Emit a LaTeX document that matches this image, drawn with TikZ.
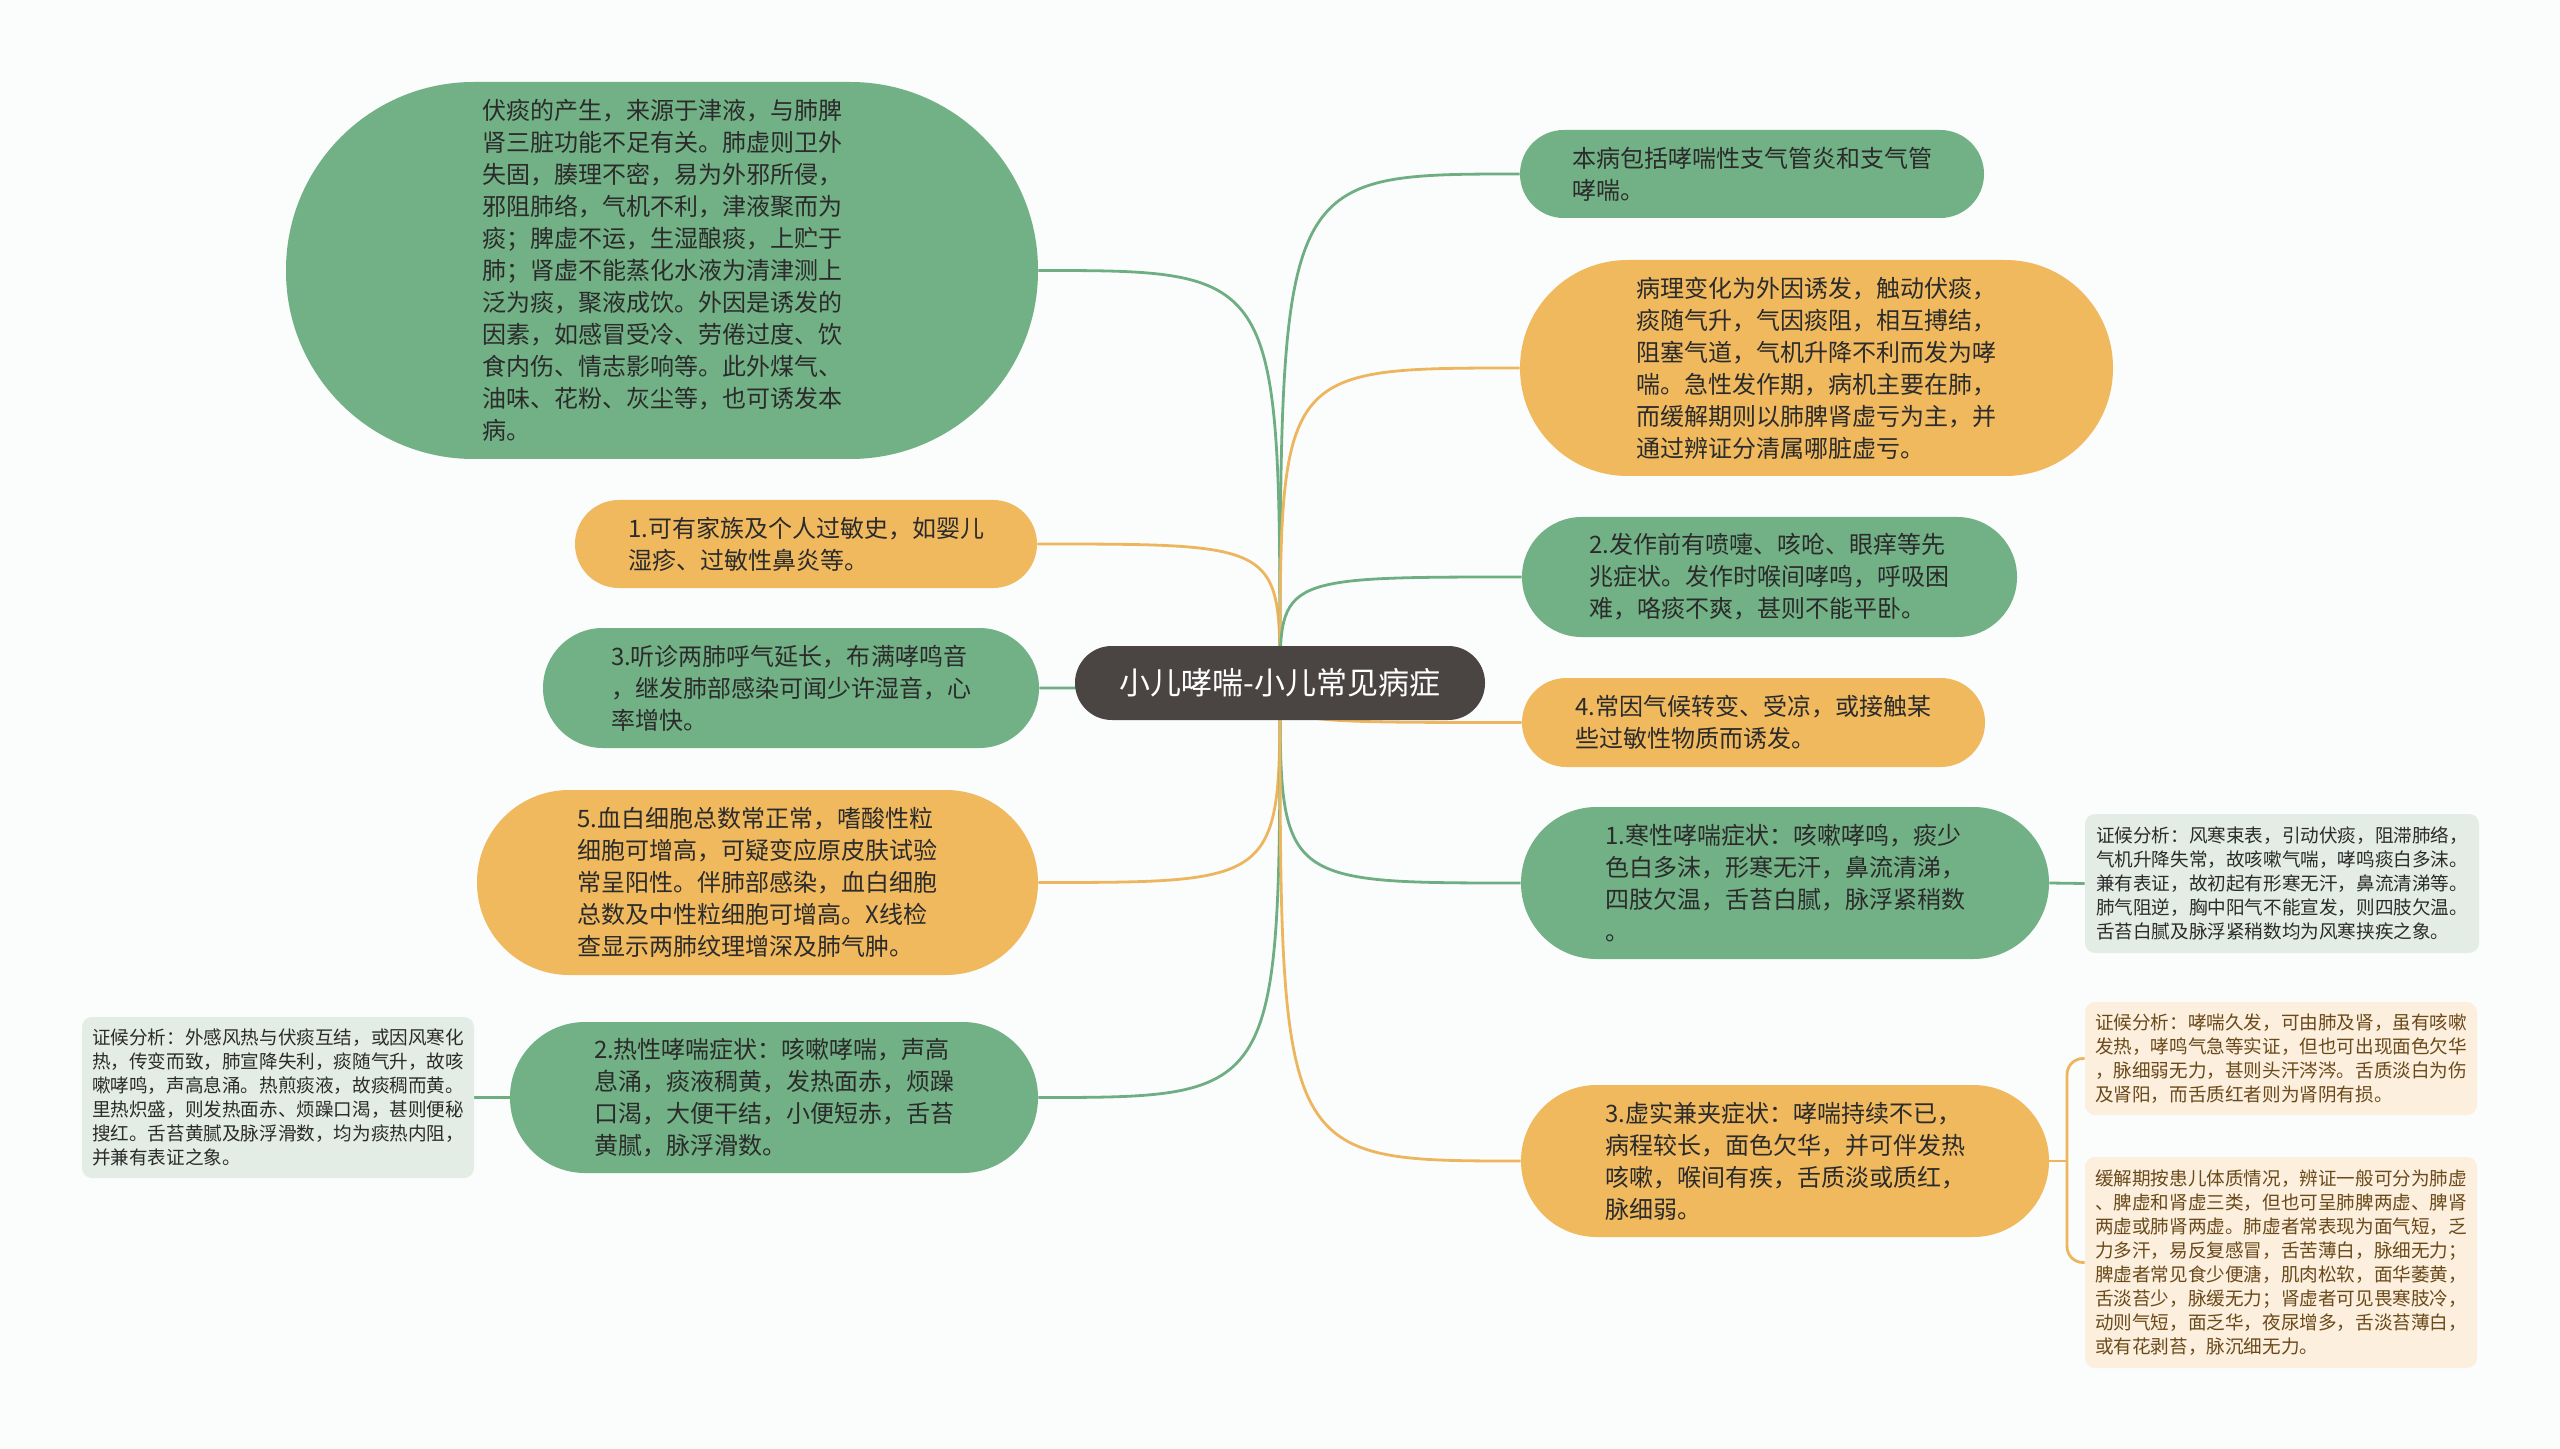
\documentclass[tikz,border=0pt]{standalone}
\usepackage{fontspec}
\setmainfont{Noto Sans CJK SC}
\usetikzlibrary{calc}
\definecolor{gfill}{HTML}{72B085}
\definecolor{ofill}{HTML}{F0B95E}
\definecolor{cfill}{HTML}{4A4443}
\definecolor{gnote}{HTML}{E3EDE5}
\definecolor{onote}{HTML}{FCEFDE}
\definecolor{bgcol}{HTML}{FAFDFC}
\definecolor{txt}{HTML}{2B2B2B}
\definecolor{otxt}{HTML}{6A4A1A}
\definecolor{glinecol}{HTML}{6FAE83}
\definecolor{olinecol}{HTML}{EDB65E}
\pgfdeclarelayer{bglayer}
\pgfsetlayers{bglayer,main}
\begin{document}
\begin{tikzpicture}[x=0.5pt,y=-0.5pt,
  box/.style={inner sep=0pt, align=left, font=\fontsize{12pt}{16pt}\selectfont, text=txt},
  gbox/.style={box, fill=gfill},
  obox/.style={box, fill=ofill},
  sz/.style n args={2}{minimum width=#1*0.5pt, minimum height=#2*0.5pt, rounded corners=#2*0.249pt},
  notebox/.style={inner sep=0pt, align=left, font=\fontsize{9.3pt}{12pt}\selectfont, rounded corners=5pt},
  gnotebox/.style={notebox, fill=gnote, text=txt},
  onotebox/.style={notebox, fill=onote, text=otxt},
  nsz/.style n args={2}{minimum width=#1*0.5pt, minimum height=#2*0.5pt},
  gl/.style={draw=glinecol, line width=1.4pt},
  ol/.style={draw=olinecol, line width=1.4pt}
]
\useasboundingbox (0,0) rectangle (2560,1449);

% central node
\node[fill=cfill, text=white, inner sep=0pt, font=\fontsize{15.5pt}{18pt}\selectfont,
  minimum width=205pt, minimum height=37pt, rounded corners=18.4pt] (ctr) at (1280,683) {小儿哮喘-小儿常见病症};

% left side
\node[gbox, sz={752}{377}] (A) at (662,270.5) {伏痰的产生，来源于津液，与肺脾\\肾三脏功能不足有关。肺虚则卫外\\失固，腠理不密，易为外邪所侵，\\邪阻肺络，气机不利，津液聚而为\\痰；脾虚不运，生湿酿痰，上贮于\\肺；肾虚不能蒸化水液为清津测上\\泛为痰，聚液成饮。外因是诱发的\\因素，如感冒受冷、劳倦过度、饮\\食内伤、情志影响等。此外煤气、\\油味、花粉、灰尘等，也可诱发本\\病。};
\node[obox, sz={462}{88}] (B) at (806,544) {1.可有家族及个人过敏史，如婴儿\\湿疹、过敏性鼻炎等。};
\node[gbox, sz={496}{120}] (C) at (791,688) {3.听诊两肺呼气延长，布满哮鸣音\\，继发肺部感染可闻少许湿音，心\\率增快。};
\node[obox, sz={561}{185}] (D) at (757.5,882.5) {5.血白细胞总数常正常，嗜酸性粒\\细胞可增高，可疑变应原皮肤试验\\常呈阳性。伴肺部感染，血白细胞\\总数及中性粒细胞可增高。X线检\\查显示两肺纹理增深及肺气肿。};
\node[gbox, sz={528}{151}] (E) at (774,1097.5) {2.热性哮喘症状：咳嗽哮喘，声高\\息涌，痰液稠黄，发热面赤，烦躁\\口渴，大便干结，小便短赤，舌苔\\黄腻，脉浮滑数。};
\node[gnotebox, nsz={392}{161}] (F) at (278,1097.5) {证候分析：外感风热与伏痰互结，或因风寒化\\热，传变而致，肺宣降失利，痰随气升，故咳\\嗽哮鸣，声高息涌。热煎痰液，故痰稠而黄。\\里热炽盛，则发热面赤、烦躁口渴，甚则便秘\\搜红。舌苔黄腻及脉浮滑数，均为痰热内阻，\\并兼有表证之象。};

% right side
\node[gbox, sz={464}{88}] (G) at (1752,174) {本病包括哮喘性支气管炎和支气管\\哮喘。};
\node[obox, sz={593}{216}] (H) at (1816.5,368) {病理变化为外因诱发，触动伏痰，\\痰随气升，气因痰阻，相互搏结，\\阻塞气道，气机升降不利而发为哮\\喘。急性发作期，病机主要在肺，\\而缓解期则以肺脾肾虚亏为主，并\\通过辨证分清属哪脏虚亏。};
\node[gbox, sz={495}{120}] (I) at (1769.5,577) {2.发作前有喷嚏、咳呛、眼痒等先\\兆症状。发作时喉间哮鸣，呼吸困\\难，咯痰不爽，甚则不能平卧。};
\node[obox, sz={463}{89}] (J) at (1753.5,722.5) {4.常因气候转变、受凉，或接触某\\些过敏性物质而诱发。};
\node[gbox, sz={528}{152}] (K) at (1785,883) {1.寒性哮喘症状：咳嗽哮鸣，痰少\\色白多沫，形寒无汗，鼻流清涕，\\四肢欠温，舌苔白腻，脉浮紧稍数\\。};
\node[gnotebox, nsz={394}{139}] (L) at (2282,883.5) {证候分析：风寒束表，引动伏痰，阻滞肺络，\\气机升降失常，故咳嗽气喘，哮鸣痰白多沫。\\兼有表证，故初起有形寒无汗，鼻流清涕等。\\肺气阻逆，胸中阳气不能宣发，则四肢欠温。\\舌苔白腻及脉浮紧稍数均为风寒挟疾之象。};
\node[obox, sz={528}{152}] (O) at (1785,1161) {3.虚实兼夹症状：哮喘持续不已，\\病程较长，面色欠华，并可伴发热\\咳嗽，喉间有疾，舌质淡或质红，\\脉细弱。};
\node[onotebox, nsz={392}{113}] (M) at (2281,1058.5) {证候分析：哮喘久发，可由肺及肾，虽有咳嗽\\发热，哮鸣气急等实证，但也可出现面色欠华\\，脉细弱无力，甚则头汗涔涔。舌质淡白为伤\\及肾阳，而舌质红者则为肾阴有损。};
\node[onotebox, nsz={392}{211}] (N) at (2281,1262.5) {缓解期按患儿体质情况，辨证一般可分为肺虚\\、脾虚和肾虚三类，但也可呈肺脾两虚、脾肾\\两虚或肺肾两虚。肺虚者常表现为面气短，乏\\力多汗，易反复感冒，舌苦薄白，脉细无力；\\脾虚者常见食少便溏，肌肉松软，面华萎黄，\\舌淡苔少，脉缓无力；肾虚者可见畏寒肢冷，\\动则气短，面乏华，夜尿增多，舌淡苔薄白，\\或有花剥苔，脉沉细无力。};

\coordinate (j) at (2067,1161);

\begin{pgfonlayer}{bglayer}
\fill[bgcol] (0,0) rectangle (2560,1449);
\draw[gl] (ctr.center) .. controls (ctr.center |- A.east) .. (A.east);
\draw[ol] (ctr.center) .. controls (ctr.center |- B.east) .. (B.east);
\draw[gl] (ctr.center) .. controls (ctr.center |- C.east) .. (C.east);
\draw[ol] (ctr.center) .. controls (ctr.center |- D.east) .. (D.east);
\draw[gl] (ctr.center) .. controls (ctr.center |- E.east) .. (E.east);
\draw[gl] (ctr.center) .. controls (ctr.center |- G.west) .. (G.west);
\draw[ol] (ctr.center) .. controls (ctr.center |- H.west) .. (H.west);
\draw[gl] (ctr.center) .. controls (ctr.center |- I.west) .. (I.west);
\draw[ol] (ctr.center) .. controls (ctr.center |- J.west) .. (J.west);
\draw[gl] (ctr.center) .. controls (ctr.center |- K.west) .. (K.west);
\draw[ol] (ctr.center) .. controls (ctr.center |- O.west) .. (O.west);
\draw[gl] (E.west) -- (F.east);
\draw[gl] (K.east) -- (L.west);
\draw[ol] (O.east) -- (j);
\draw[ol, rounded corners=8pt] (M.west) -| (j) |- (N.west);
\end{pgfonlayer}
\end{tikzpicture}
\end{document}
